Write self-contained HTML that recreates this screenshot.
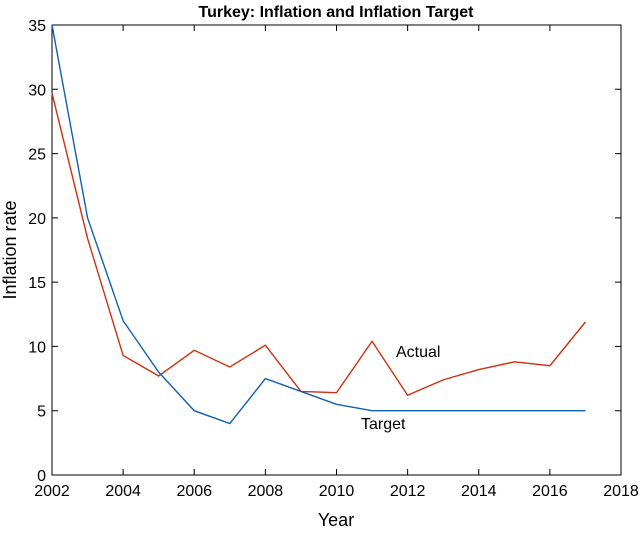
<!DOCTYPE html>
<html><head><meta charset="utf-8"><style>
body{margin:0;background:#fff;}
svg text{font-family:"Liberation Sans",sans-serif;fill:#000;}
</style></head><body>
<svg id="chart" width="640" height="528" xmlns="http://www.w3.org/2000/svg">
<text x="336" y="17" text-anchor="middle" font-size="16" font-weight="bold">Turkey: Inflation and Inflation Target</text>
<g id="axes"></g>
<text x="336" y="526" text-anchor="middle" font-size="18">Year</text>
<text transform="translate(16,250) rotate(-90)" text-anchor="middle" font-size="18">Inflation rate</text>
<text x="396" y="357" font-size="16">Actual</text>
<text x="361" y="429" font-size="16">Target</text>
</svg>
<script>
const years=[2002,2003,2004,2005,2006,2007,2008,2009,2010,2011,2012,2013,2014,2015,2016,2017];
const actual=[29.7,18.4,9.3,7.7,9.7,8.4,10.1,6.5,6.4,10.4,6.2,7.4,8.2,8.8,8.5,11.9];
const target=[35,20,12,8,5,4,7.5,6.5,5.5,5,5,5,5,5,5,5];
const xTicks=[2002,2004,2006,2008,2010,2012,2014,2016,2018];
const yTicks=[0,5,10,15,20,25,30,35];
const L=52,R=621,T=25,B=475;
const x=v=>L+(v-2002)/(2018-2002)*(R-L);
const y=v=>B-v/35*(B-T);
const ns="http://www.w3.org/2000/svg";
const g=document.getElementById('axes');
function mk(tag,attrs){const e=document.createElementNS(ns,tag);for(const k in attrs)e.setAttribute(k,attrs[k]);g.appendChild(e);return e;}
const box=mk('rect',{x:L,y:T,width:R-L,height:B-T,fill:'none',stroke:'#000','stroke-width':1});


xTicks.forEach(t=>{
 const a=mk('path',{d:`M${x(t)},${B}v-6M${x(t)},${T}v6`,stroke:'#000'});
 
 
 const l=mk('text',{x:x(t),y:B+21,'text-anchor':'middle','font-size':16});
 l.textContent=t;
 
 
});
yTicks.forEach(t=>{
 const a=mk('path',{d:`M${L},${y(t)}h6M${R},${y(t)}h-6`,stroke:'#000'});
 
 
 const l=mk('text',{x:L-6,y:y(t)+6,'text-anchor':'end','font-size':16});
 l.textContent=t;
 
 
});
function line(vals,color,name){
 const p=mk('polyline',{points:vals.map((v,i)=>x(years[i])+','+y(v)).join(' '),fill:'none',stroke:color,'stroke-width':1.4});
 
 
}
line(actual,'#d03010','actual-line');
line(target,'#1060b0','target-line');
</script>
</body></html>
